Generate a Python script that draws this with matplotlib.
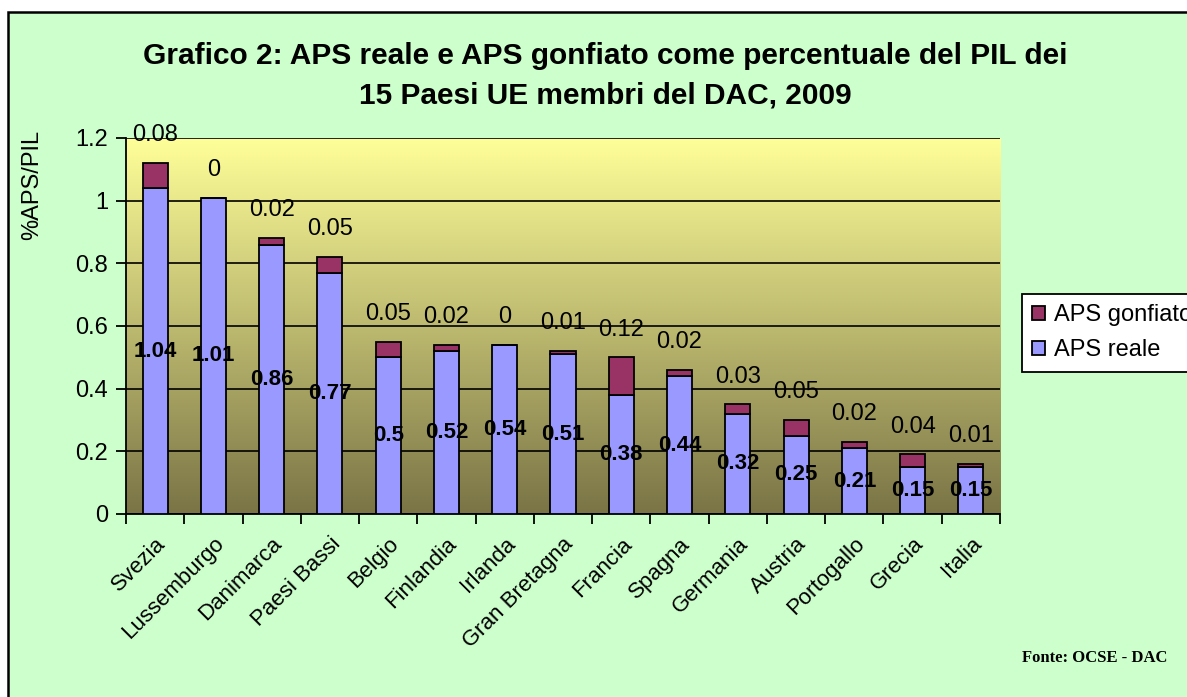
import matplotlib.pyplot as plt
import numpy as np
from matplotlib.colors import LinearSegmentedColormap
from matplotlib.patches import Rectangle

# Data
paesi = ['Svezia', 'Lussemburgo', 'Danimarca', 'Paesi Bassi', 'Belgio', 'Finlandia',
         'Irlanda', 'Gran Bretagna', 'Francia', 'Spagna', 'Germania', 'Austria',
         'Portogallo', 'Grecia', 'Italia']
aps_reale = [1.04, 1.01, 0.86, 0.77, 0.5, 0.52, 0.54, 0.51, 0.38, 0.44, 0.32, 0.25, 0.21, 0.15, 0.15]
aps_gonfiato = [0.08, 0, 0.02, 0.05, 0.05, 0.02, 0, 0.01, 0.12, 0.02, 0.03, 0.05, 0.02, 0.04, 0.01]

plt.rcParams['font.family'] = ['Liberation Sans', 'DejaVu Sans']

W, H = 1187, 697
fig = plt.figure(figsize=(W / 100, H / 100), dpi=100, facecolor='white')

# green chart background with black border
fig.patches.append(Rectangle((8 / W, -0.01), 1.0, (H - 12) / H + 0.01, transform=fig.transFigure,
                             facecolor='#CCFFCC', edgecolor='black', linewidth=1.8, zorder=-10))

ax = fig.add_axes([126 / W, 1 - 514 / H, 874 / W, 376 / H])
ax.set_facecolor('none')

# gradient plot area
cmap = LinearSegmentedColormap.from_list('grad', ['#7A7446', '#FFFF99'])
grad = np.linspace(0, 1, 256).reshape(-1, 1)
ax.imshow(grad, cmap=cmap, aspect='auto', extent=[0, 1, 0, 1], origin='lower',
          transform=ax.transAxes, zorder=0)

x = np.arange(len(paesi))
width = 0.43
b1 = ax.bar(x, aps_reale, width, color='#9999FF', edgecolor='black', linewidth=1.3,
            label='APS reale', zorder=3)
b2 = ax.bar(x, aps_gonfiato, width, bottom=aps_reale, color='#993366', edgecolor='black',
            linewidth=1.3, label='APS gonfiato', zorder=3)

# labels
ax.bar_label(b1, labels=[f'{v:g}' for v in aps_reale], label_type='center',
             fontsize=16, fontweight='bold', zorder=5)
for xi, r, g in zip(x, aps_reale, aps_gonfiato):
    ax.annotate(f'{g:g}', (xi, r + g), xytext=(0, 20), textcoords='offset points',
                ha='center', va='center', fontsize=17, zorder=5)

ax.set_xlim(-0.5, len(paesi) - 0.5)
ax.set_ylim(0, 1.2)
ax.set_yticks(np.arange(0, 1.21, 0.2))
ax.set_yticklabels(['0', '0.2', '0.4', '0.6', '0.8', '1', '1.2'], fontsize=17)
ax.yaxis.grid(True, color='black', linewidth=1.2, zorder=1)
ax.set_axisbelow(True)

ax.set_xticks(x)
ax.set_xticklabels(paesi, rotation=45, ha='right', rotation_mode='anchor', fontsize=16)
ax.tick_params(axis='x', length=0, pad=14)
ax.set_xticks(np.arange(-0.5, len(paesi)), minor=True)
ax.tick_params(axis='x', which='minor', length=7, width=1.3)
ax.tick_params(axis='y', length=7, width=1.3, pad=6)

for s in ['top', 'right']:
    ax.spines[s].set_visible(False)
ax.spines['left'].set_linewidth(1.3)
ax.spines['bottom'].set_linewidth(1.3)

ax.set_ylabel('%APS/PIL', fontsize=17)
ax.yaxis.set_label_coords(-0.095, 0.875)

fig.text(605 / W, 1 - 56 / H, 'Grafico 2: APS reale e APS gonfiato come percentuale del PIL dei',
         ha='center', va='center', fontsize=21.5, fontweight='bold')
fig.text(605 / W, 1 - 96 / H, '15 Paesi UE membri del DAC, 2009',
         ha='center', va='center', fontsize=21.5, fontweight='bold')

fig.text(1167 / W, 1 - 658 / H, 'Fonte: OCSE - DAC', ha='right', va='center',
         fontsize=12, family='Liberation Serif', fontweight='bold')

handles = [b2, b1]
leg = fig.legend(handles, ['APS gonfiato', 'APS reale'], loc='upper left',
                 bbox_to_anchor=(1010 / W, 1 - 282 / H), fontsize=17, frameon=True,
                 fancybox=False, edgecolor='black', framealpha=1, handlelength=0.55,
                 handleheight=0.55, handletextpad=0.35, borderpad=0.45, labelspacing=0.55)
leg.get_frame().set_linewidth(1.3)

fig.savefig('out.png', dpi=100, facecolor=fig.get_facecolor())
